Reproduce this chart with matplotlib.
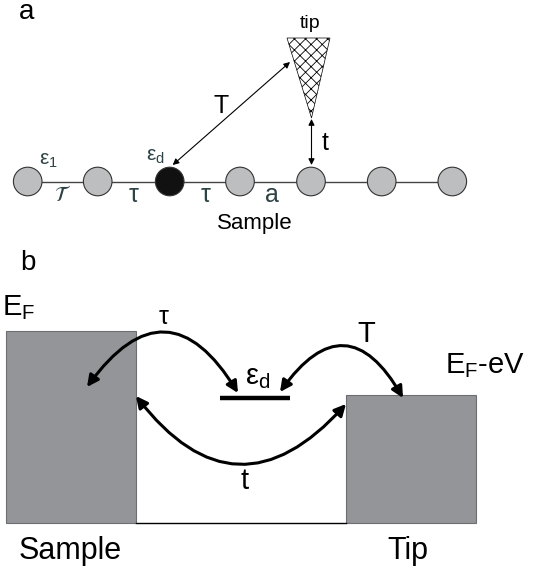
import numpy as np
import matplotlib.pyplot as plt
from matplotlib.patches import Circle, Polygon, Rectangle, FancyArrowPatch

plt.rcParams['font.family'] = ['Liberation Sans', 'DejaVu Sans']
plt.rcParams['mathtext.fontset'] = 'custom'
plt.rcParams['mathtext.rm'] = 'Liberation Sans'
plt.rcParams['mathtext.it'] = 'Liberation Sans'
plt.rcParams['hatch.linewidth'] = 0.6

# panel a: chain of sites (pixel positions along the chain)
site_x = [27.7, 97.7, 169.7, 240, 311, 381.7, 452.3]
site_y = 181.5
site_r = 14.3
impurity = 2
tip_site = 4

# panel b: band blocks (left, top, right, bottom)
sample_box = (6, 331, 136, 523)
tip_box = (346, 395, 476, 523)
level_x = (220, 290)
level_y = 398

teal = '#2d4245'
gray = '#939598'

fig = plt.figure(figsize=(5.33, 5.76), dpi=100)
ax = fig.add_axes([0, 0, 1, 1])
ax.set_xlim(0, 533)
ax.set_ylim(576, 0)
ax.axis('off')

# ---- panel a ----
ax.text(27, 12, 'a', fontsize=20, ha='center', va='center')
ax.plot([site_x[0], site_x[-1]], [site_y, site_y], color='#444444', lw=1, zorder=1)
for i, x in enumerate(site_x):
    fc = '#111111' if i == impurity else '#bcbec0'
    ax.add_patch(Circle((x, site_y), site_r, fc=fc, ec='#333333', lw=0.8, zorder=2))

# tip (crosshatched cone)
tx = site_x[tip_site]
ax.add_patch(Polygon([(tx - 24, 38), (tx + 19, 38), (tx + 0.5, 118)], closed=True,
                     fill=False, hatch='xxx', ec='black', lw=0.5))
ax.text(tx - 1, 24, 'tip', fontsize=14, ha='center', va='center')

ax.add_patch(FancyArrowPatch((290, 62), (site_x[impurity] + 3, 165), arrowstyle='<|-|>',
                             mutation_scale=9, lw=0.8, color='black', shrinkA=0, shrinkB=0))
ax.text(221, 106, 'T', fontsize=18, ha='center', va='center')
ax.add_patch(FancyArrowPatch((tx + 0.5, 119), (tx + 0.5, 165), arrowstyle='<|-|>',
                             mutation_scale=9, lw=0.8, color='black', shrinkA=0, shrinkB=0))
ax.text(325, 143, 't', fontsize=18, ha='center', va='center')

ax.text(48, 160, r'$\mathrm{ε_1}$', fontsize=15, color=teal, ha='center', va='center')
ax.text(155, 157, r'$\mathrm{ε_d}$', fontsize=15, color=teal, ha='center', va='center')
ax.text(63, 195, r'$\mathcal{T}$', fontsize=15, color=teal, ha='center', va='center',
        math_fontfamily='stix')
ax.text(134, 195, 'τ', fontsize=18, color=teal, ha='center', va='center')
ax.text(206, 195, 'τ', fontsize=18, color=teal, ha='center', va='center')
ax.text(272, 195, 'a', fontsize=18, color=teal, ha='center', va='center')
ax.text(255, 223, 'Sample', fontsize=16, ha='center', va='center')

# ---- panel b ----
ax.text(28, 263, 'b', fontsize=20, ha='center', va='center')
for (l, t, r, b) in (sample_box, tip_box):
    ax.add_patch(Rectangle((l, t), r - l, b - t, fc=gray, ec='#6d6e71', lw=0.8))
ax.plot([sample_box[2], tip_box[0]], [522.5, 522.5], color='black', lw=1)
ax.plot(level_x, [level_y, level_y], color='black', lw=3.2, solid_capstyle='butt')

arc_kw = dict(arrowstyle='<|-|>', mutation_scale=17, lw=2.2, color='black',
              shrinkA=0, shrinkB=0)
ax.add_patch(FancyArrowPatch((238, 393), (87, 387), connectionstyle='arc3,rad=0.75', **arc_kw))
ax.add_patch(FancyArrowPatch((280, 392), (403, 398), connectionstyle='arc3,rad=-0.78', **arc_kw))
ax.add_patch(FancyArrowPatch((136, 396), (346, 404), connectionstyle='arc3,rad=0.6', **arc_kw))

ax.text(19, 308, r'$\mathrm{E_F}$', fontsize=21, ha='center', va='center')
ax.text(164, 317, 'τ', fontsize=18, ha='center', va='center')
ax.text(366, 334, 'T', fontsize=21, ha='center', va='center')
ax.text(258, 377, r'$\mathrm{ε_d}$', fontsize=21, ha='center', va='center')
ax.text(485, 366, r'$\mathrm{E_F}$-eV', fontsize=21, ha='center', va='center')
ax.text(245, 481, 't', fontsize=21, ha='center', va='center')
ax.text(70, 551, 'Sample', fontsize=22, ha='center', va='center')
ax.text(408, 551, 'Tip', fontsize=22, ha='center', va='center')

fig.savefig('out.png', dpi=100)
